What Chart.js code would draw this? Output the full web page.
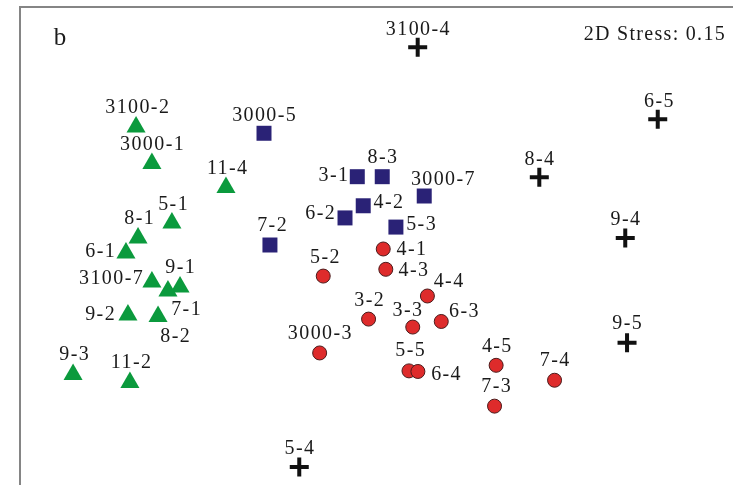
<!DOCTYPE html>
<html>
<head>
<meta charset="utf-8">
<title>NMDS b</title>
<script src="https://cdn.jsdelivr.net/npm/chart.js@4.4.1/dist/chart.umd.min.js"></script>
<style>
  html, body { margin: 0; padding: 0; background: #fff; }
  canvas { display: block; }
</style>
</head>
<body>
<canvas id="nmds" width="733" height="485"></canvas>
<script>
// --- Data (NMDS axis units) ---
const greenNames = ['3100-2', '3000-1', '11-4', '5-1', '8-1', '6-1', '3100-7', '9-1', '7-1', '9-2', '8-2', '9-3', '11-2'];
const greenX = [-1.214, -1.134, -0.760, -1.033, -1.204, -1.265, -1.134, -0.992, -1.053, -1.255, -1.103, -1.532, -1.245];
const greenY = [0.598, 0.414, 0.294, 0.116, 0.040, -0.035, -0.181, -0.206, -0.226, -0.346, -0.354, -0.645, -0.685];

const blueNames = ['3000-5', '3-1', '8-3', '3000-7', '4-2', '6-2', '5-3', '7-2'];
const blueX = [-0.568, -0.097, 0.029, 0.241, -0.067, -0.159, 0.098, -0.538];
const blueY = [0.566, 0.348, 0.348, 0.251, 0.202, 0.141, 0.095, 0.005];

const redNames = ['4-1', '4-3', '5-2', '4-4', '3-2', '3-3', '6-3', '3000-3', '4-5', '5-5', '6-4', '7-4', '7-3'];
const redX = [0.034, 0.047, -0.269, 0.257, -0.040, 0.183, 0.327, -0.287, 0.604, 0.164, 0.209, 0.899, 0.596];
const redY = [-0.015, -0.117, -0.151, -0.251, -0.367, -0.407, -0.379, -0.537, -0.599, -0.627, -0.630, -0.674, -0.804];

const crossNames = ['3100-4', '6-5', '8-4', '9-4', '9-5', '5-4'];
const crossX = [0.208, 1.420, 0.822, 1.256, 1.265, -0.390];
const crossY = [0.998, 0.636, 0.345, 0.040, -0.486, -1.110];

const stressText = '2D Stress: 0.15';
const panelText = 'b';

// --- Label placement (pixels from marker centre) ---
const greenLabelOffset = [[1, -19], [0, -18.5], [1, -18.5], [1, -18], [1, -19], [-26, -1], [-41, -3], [0, -19], [18, 19], [-28, 0], [17, 20.5], [1, -19.5], [1, -19.5]];
const blueLabelOffset = [[0, -18], [-24, -1], [0, -18.5], [18.5, -16], [25, -3], [-25, -4], [25, -2], [2, -19]];
const redLabelOffset = [[28, 1], [27.5, 1.5], [1.5, -18.5], [21, -14], [0.5, -18.5], [-5.5, -16], [22.5, -10], [0, -19], [0.5, -19], [1, -20], [28, 3.5], [0, -19.5], [1.5, -19.5]];
const crossLabelOffset = [[0, -17.5], [1, -17.5], [0, -17.5], [0, -18], [0, -19.5], [0, -18.5]];

function toPoints(xs, ys) {
  return xs.map((x, i) => ({ x, y: ys[i] }));
}

const SERIF = '"Liberation Serif", "Times New Roman", serif';

// --- Labels and captions ---
const labelPlugin = {
  id: 'pointLabels',
  afterDatasetsDraw(chart) {
    const ctx = chart.ctx;
    ctx.save();
    ctx.fillStyle = '#1a1a1a';
    ctx.font = '20px ' + SERIF;
    ctx.letterSpacing = '1.4px';
    ctx.textAlign = 'center';
    ctx.textBaseline = 'middle';
    chart.data.datasets.forEach((ds, di) => {
      const meta = chart.getDatasetMeta(di);
      meta.data.forEach((pt, i) => {
        const off = ds.labelOffset[i];
        ctx.fillText(ds.names[i], pt.x + off[0] + 0.7, pt.y + off[1]);
      });
    });
    ctx.letterSpacing = '1.3px';
    ctx.textAlign = 'right';
    ctx.textBaseline = 'alphabetic';
    ctx.fillText(stressText, 726, 40);
    ctx.letterSpacing = '0px';
    ctx.font = '25px ' + SERIF;
    ctx.textAlign = 'center';
    ctx.fillText(panelText, 60, 45);
    ctx.restore();
  }
};

new Chart(document.getElementById('nmds'), {
  type: 'scatter',
  data: {
    datasets: [
      {
        names: greenNames, labelOffset: greenLabelOffset,
        data: toPoints(greenX, greenY),
        pointStyle: 'triangle', radius: 11,
        backgroundColor: '#0b9a3d', borderColor: '#0b9a3d', borderWidth: 0
      },
      {
        names: blueNames, labelOffset: blueLabelOffset,
        data: toPoints(blueX, blueY),
        pointStyle: 'rect', radius: 10.6,
        backgroundColor: '#2a2276', borderColor: '#2a2276', borderWidth: 0
      },
      {
        names: redNames, labelOffset: redLabelOffset,
        data: toPoints(redX, redY),
        pointStyle: 'circle', radius: 7,
        backgroundColor: '#de2b2b', borderColor: '#4a1c1c', borderWidth: 1
      },
      {
        names: crossNames, labelOffset: crossLabelOffset,
        data: toPoints(crossX, crossY),
        pointStyle: 'cross', radius: 9.5,
        backgroundColor: '#111', borderColor: '#111', borderWidth: 4
      }
    ]
  },
  options: {
    responsive: false,
    animation: false,
    events: [],
    layout: { autoPadding: false, padding: { left: 20, top: 7, right: 0, bottom: 0 } },
    plugins: { legend: { display: false }, tooltip: { enabled: false } },
    scales: {
      x: {
        type: 'linear', position: 'top', min: -1.8, max: 1.8,
        ticks: { display: false },
        grid: { display: false, drawTicks: false },
        border: { display: true, color: '#858585', width: 2 }
      },
      y: {
        type: 'linear', position: 'left', min: -1.2, max: 1.2,
        ticks: { display: false },
        grid: { display: false, drawTicks: false },
        border: { display: true, color: '#858585', width: 2 }
      }
    }
  },
  plugins: [labelPlugin]
});
</script>
</body>
</html>
